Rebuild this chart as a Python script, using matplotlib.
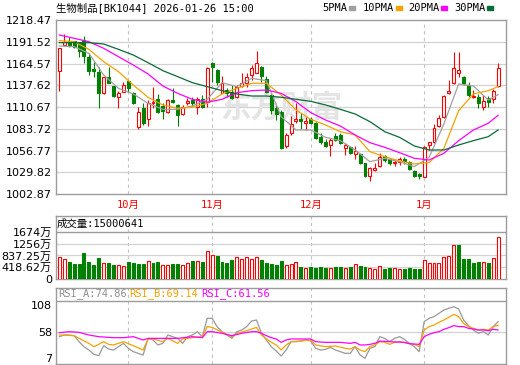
import matplotlib
matplotlib.use('Agg')
import matplotlib.pyplot as plt
from matplotlib.patches import Rectangle
import numpy as np

W, H = 520, 365

# 日K数据 (2025-09-11 ... 2026-01-26)
opens = [1155.7, 1187.5, 1192.5, 1192.5, 1189.6, 1193.7, 1173.0, 1157.4, 1154.5, 1128.4,
         1147.4, 1136.7, 1123.5, 1129.7, 1142.9, 1128.4, 1085.5, 1109.9, 1095.4, 1115.2,
         1120.6, 1111.9, 1104.1, 1119.3, 1113.2, 1101.9, 1115.2, 1119.3, 1110.3, 1120.2,
         1117.3, 1164.8, 1156.5, 1128.4, 1131.7, 1129.7, 1123.5, 1136.7, 1140.0, 1150.3,
         1153.2, 1160.6, 1144.9, 1125.5, 1109.9, 1104.9, 1062.4, 1078.0, 1093.7, 1095.4,
         1090.5, 1095.4, 1090.5, 1073.1, 1067.7, 1063.6, 1074.7, 1076.0, 1059.5, 1061.5,
         1052.4, 1052.0, 1040.9, 1025.2, 1032.6, 1037.6, 1050.0, 1045.8, 1040.9, 1042.9,
         1045.8, 1042.9, 1031.8, 1027.7, 1024.4, 1063.6, 1067.7, 1087.1, 1097.9, 1127.6,
         1140.0, 1152.4, 1147.4, 1137.9, 1122.7, 1123.5, 1111.1, 1121.4, 1120.2, 1136.7]
highs = [1184.0, 1201.1, 1197.8, 1193.0, 1191.6, 1199.1, 1177.2, 1166.8, 1160.6, 1148.3,
         1160.6, 1137.0, 1130.5, 1142.1, 1144.1, 1129.7, 1111.1, 1115.2, 1119.3, 1135.9,
         1126.8, 1115.2, 1120.1, 1133.8, 1114.4, 1113.2, 1121.4, 1123.5, 1123.5, 1125.5,
         1160.6, 1166.8, 1157.4, 1149.1, 1133.8, 1137.9, 1137.5, 1152.4, 1153.2, 1162.7,
         1180.5, 1161.5, 1149.1, 1126.8, 1113.2, 1106.9, 1078.0, 1099.5, 1115.2, 1102.8,
         1097.9, 1097.9, 1092.5, 1078.0, 1070.6, 1071.8, 1078.0, 1078.0, 1065.7, 1062.4,
         1062.4, 1053.3, 1041.7, 1036.8, 1041.7, 1053.3, 1051.2, 1047.1, 1045.0, 1048.3,
         1048.3, 1043.3, 1032.6, 1028.5, 1062.4, 1067.3, 1089.6, 1100.8, 1125.5, 1144.1,
         1179.2, 1179.2, 1149.1, 1142.1, 1131.7, 1126.8, 1125.5, 1124.3, 1132.6, 1164.8]
lows = [1130.9, 1186.3, 1185.4, 1183.4, 1173.0, 1164.8, 1150.3, 1148.3, 1109.9, 1126.8,
        1140.0, 1122.7, 1109.1, 1129.5, 1129.7, 1114.0, 1083.8, 1088.4, 1087.1, 1109.1,
        1102.8, 1096.2, 1102.8, 1116.0, 1087.1, 1100.8, 1113.2, 1111.9, 1101.6, 1109.1,
        1111.1, 1142.1, 1137.9, 1127.6, 1122.7, 1120.2, 1121.4, 1135.9, 1135.9, 1144.1,
        1152.4, 1142.1, 1127.6, 1102.0, 1094.6, 1059.0, 1059.5, 1076.0, 1090.5, 1083.0,
        1082.2, 1089.6, 1070.6, 1064.8, 1060.7, 1050.0, 1069.0, 1064.8, 1051.2, 1052.4,
        1045.8, 1040.1, 1024.4, 1019.4, 1031.8, 1036.8, 1042.9, 1038.8, 1037.6, 1038.8,
        1040.1, 1032.6, 1024.4, 1021.1, 1024.0, 1057.4, 1066.5, 1086.3, 1096.6, 1126.8,
        1139.5, 1148.3, 1137.9, 1123.5, 1121.4, 1109.1, 1107.0, 1111.1, 1115.2, 1135.9]
closes = [1183.4, 1190.8, 1187.5, 1185.4, 1180.1, 1174.3, 1155.7, 1155.7, 1128.4, 1147.4,
          1140.8, 1124.3, 1128.4, 1137.5, 1133.8, 1116.0, 1104.5, 1090.5, 1116.0, 1117.3,
          1104.9, 1106.1, 1119.3, 1117.3, 1100.8, 1111.1, 1118.1, 1116.0, 1120.6, 1110.3,
          1158.6, 1159.8, 1142.1, 1140.0, 1127.6, 1121.4, 1135.9, 1140.0, 1147.4, 1158.6,
          1164.8, 1149.1, 1129.7, 1107.0, 1101.6, 1059.5, 1076.0, 1089.6, 1095.4, 1093.7,
          1093.7, 1091.3, 1071.8, 1067.7, 1062.4, 1069.8, 1069.8, 1065.7, 1063.6, 1053.3,
          1056.6, 1040.9, 1025.2, 1034.7, 1035.5, 1049.1, 1045.0, 1040.9, 1042.9, 1045.8,
          1044.2, 1033.5, 1025.2, 1025.2, 1061.5, 1066.9, 1084.2, 1096.6, 1124.3, 1130.9,
          1158.6, 1156.5, 1140.0, 1125.5, 1124.3, 1115.2, 1118.5, 1117.3, 1130.9, 1158.6]

# 成交量 (万), 1 = 红, 0 = 绿
volumes = [772, 700, 594, 522, 522, 914, 594, 499, 736, 558,
           558, 499, 499, 463, 594, 558, 522, 522, 629, 558,
           594, 499, 499, 522, 522, 499, 558, 629, 629, 594,
           985, 843, 807, 594, 558, 665, 772, 700, 772, 700,
           795, 677, 570, 534, 499, 641, 499, 534, 594, 427,
           392, 427, 392, 427, 392, 392, 427, 427, 392, 427,
           534, 463, 427, 392, 356, 463, 368, 392, 392, 356,
           356, 392, 368, 368, 677, 570, 570, 570, 783, 819,
           1211, 1211, 712, 712, 570, 605, 605, 570, 748, 1496]
vol_up = [1, 1, 0, 0, 0, 0, 0, 0, 0, 1, 0, 0, 1, 1, 0, 0, 0, 0, 1, 0,
          0, 1, 1, 0, 0, 1, 1, 0, 1, 0, 1, 1, 0, 0, 0, 0, 1, 1, 1, 1,
          1, 0, 0, 0, 0, 0, 1, 1, 1, 0, 1, 0, 0, 0, 0, 1, 0, 0, 1, 0,
          1, 0, 0, 1, 1, 1, 0, 0, 1, 1, 0, 0, 0, 0, 1, 1, 1, 1, 1, 1,
          1, 0, 0, 0, 0, 0, 1, 0, 1, 1]

# 均线 (读图取样)
ma_idx = [0, 3, 6, 9, 12, 15, 18, 21, 24, 27, 30, 33, 36, 39, 42, 45,
          48, 51, 54, 57, 60, 63, 66, 69, 72, 75, 78, 81, 84, 87, 89]
ma5 = [1186.3, 1185.4, 1177.2, 1150.3, 1133.8, 1126.8, 1115.2, 1107.8, 1107.8, 1111.9,
       1120.2, 1140.8, 1135.9, 1146.2, 1143.3, 1098.7, 1082.2, 1082.2, 1073.1, 1069.0,
       1057.4, 1042.9, 1047.1, 1042.9, 1036.8, 1048.3, 1089.6, 1139.2, 1136.7, 1119.3, 1126.0]
ma10 = [1192.9, 1191.6, 1182.1, 1166.8, 1154.5, 1137.9, 1122.7, 1113.2, 1109.1, 1110.3,
        1115.2, 1126.8, 1133.8, 1140.0, 1140.0, 1125.5, 1107.0, 1095.4, 1088.4, 1080.1,
        1076.0, 1055.3, 1049.1, 1043.8, 1040.1, 1041.7, 1059.5, 1106.1, 1126.8, 1130.9, 1135.9]
ma20 = [1199.9, 1195.8, 1191.6, 1183.4, 1173.0, 1162.7, 1151.6, 1136.7, 1127.6, 1120.2,
        1116.5, 1120.2, 1128.4, 1130.9, 1131.7, 1127.6, 1117.3, 1103.7, 1094.6, 1087.1,
        1076.0, 1066.5, 1060.7, 1054.1, 1047.1, 1045.0, 1053.3, 1069.0, 1082.2, 1090.5, 1100.4]
ma30 = [1190.4, 1190.4, 1190.4, 1188.7, 1182.1, 1175.1, 1165.6, 1155.7, 1148.3, 1140.8,
        1135.9, 1130.9, 1126.8, 1124.3, 1124.3, 1122.7, 1120.2, 1117.7, 1113.2, 1107.8,
        1102.0, 1092.5, 1080.1, 1073.1, 1062.4, 1057.4, 1057.4, 1063.6, 1069.0, 1073.9, 1082.2]
ma_names = ['5PMA', '10PMA', '20PMA', '30PMA']

# RSI
rsi_a = [50.8, 53.5, 53.5, 52.4, 42.8, 34.8, 29.4, 22.5, 20.4, 36.4,
         31.0, 29.4, 34.8, 40.1, 32.1, 26.8, 24.1, 21.4, 48.1, 45.5,
         37.5, 40.1, 53.5, 50.8, 48.1, 40.1, 50.8, 53.5, 58.8, 50.8,
         80.2, 80.2, 66.9, 58.8, 53.5, 48.1, 58.8, 61.5, 66.9, 75.9,
         77.5, 56.2, 45.5, 34.8, 27.8, 19.8, 29.4, 42.8, 42.8, 43.9,
         45.5, 43.9, 32.1, 29.4, 30.5, 33.7, 29.4, 26.8, 24.1, 24.1,
         34.8, 21.4, 16.1, 32.1, 34.8, 50.8, 48.1, 42.8, 48.1, 50.8,
         46.5, 40.1, 34.8, 26.8, 74.9, 80.2, 82.9, 88.2, 93.6, 96.2,
         98.9, 95.2, 77.5, 68.5, 61.5, 56.2, 58.8, 53.5, 66.9, 74.86]
rsi_b_idx = [0, 3, 6, 7, 8, 9, 10, 11, 13, 15, 17, 18, 19, 21, 22, 24, 25, 27, 29, 30,
             31, 33, 35, 36, 38, 40, 41, 42, 43, 44, 45, 46, 47, 49, 51, 52, 54, 56, 58, 59,
             60, 61, 62, 63, 64, 65, 66, 67, 68, 69, 71, 72, 73, 74, 75, 76, 77, 78, 79, 80,
             81, 82, 83, 84, 85, 86, 87, 88, 89]
rsi_b = [53.5, 52.4, 40.1, 34.8, 38.5, 42.8, 38.5, 37.5, 42.8, 36.4,
         29.4, 47.1, 47.1, 42.8, 48.1, 40.1, 47.1, 49.2, 50.8, 66.9,
         65.8, 57.8, 50.8, 56.2, 60.4, 65.8, 53.5, 47.1, 41.7, 37.5,
         29.4, 37.5, 42.8, 43.9, 45.5, 37.5, 34.8, 35.9, 32.1, 31.0,
         34.8, 29.4, 26.8, 34.8, 37.5, 42.8, 41.7, 38.5, 41.7, 42.8,
         39.6, 38.5, 34.8, 61.5, 66.9, 69.5, 73.8, 77.5, 81.8, 86.6,
         82.9, 72.2, 66.9, 64.2, 61.5, 62.6, 61.5, 66.9, 69.14]
rsi_c_idx = [0, 2, 4, 6, 8, 11, 13, 15, 17, 18, 21, 24, 27, 29, 30, 31, 33, 35, 37, 39,
             40, 41, 42, 43, 44, 45, 46, 47, 51, 52, 54, 57, 59, 60, 61, 62, 63, 64, 65, 67,
             70, 71, 73, 74, 75, 76, 77, 78, 79, 80, 81, 82, 83, 84, 85, 86, 87, 88, 89]
rsi_c = [57.2, 58.8, 57.8, 53.5, 50.8, 49.2, 49.2, 50.8, 45.5, 48.1,
         48.1, 48.1, 50.8, 49.2, 58.8, 58.8, 56.2, 52.4, 56.2, 58.8,
         58.8, 56.2, 52.4, 49.2, 47.1, 41.7, 45.5, 47.1, 47.1, 42.8,
         41.7, 41.7, 40.1, 41.7, 37.5, 37.5, 38.5, 40.1, 43.9, 42.8,
         41.7, 39.6, 38.5, 50.8, 54.6, 57.2, 58.8, 62.6, 65.3, 68.5,
         66.9, 66.9, 64.2, 63.1, 61.5, 61.5, 60.4, 62.6, 61.56]

price_ticks = [1002.87, 1029.82, 1056.77, 1083.72, 1110.67, 1137.62, 1164.57, 1191.52, 1218.47]
vol_ticks = [0, 418.62, 837.25, 1256, 1674]
vol_labels = ['0', '418.62万', '837.25万', '1256万', '1674万']
rsi_ticks = [7, 58, 108]
month_idx = [14, 31, 51, 74]
month_labels = ['10月', '11月', '12月', '1月']

RED = '#ff0000'
GREEN = '#008000'
FRAME = '#9c9c9c'
GRID = '#d2d2d2'
MA_COLORS = ['#a0a0a0', '#f5a200', '#ff00ff', '#0a6a38']
MONO = ['DejaVu Sans Mono', 'Noto Sans CJK SC']
LAB = ['DejaVu Sans', 'Noto Sans CJK SC']

fig = plt.figure(figsize=(W / 100, H / 100), dpi=100)
fig.patch.set_facecolor('white')


def box(l, t, r, b):
    return [l / W, 1 - b / H, (r - l) / W, (b - t) / H]


def ftext(x, y, s, **kw):
    fig.text(x / W, 1 - y / H, s, **kw)


def style(a):
    for sp in a.spines.values():
        sp.set_color(FRAME)
        sp.set_linewidth(1.0)
    a.set_xlim(-0.67, 90.6)
    a.set_xticks([])
    a.tick_params(axis='y', length=0, pad=3, labelsize=8)
    for lab in a.get_yticklabels():
        lab.set_family(LAB)
    for m in month_idx:
        a.axvline(m, color='#c4c4c4', lw=0.8, ls=(0, (3, 3)), zorder=1)


x = np.arange(len(closes))
opens_a = np.array(opens)
closes_a = np.array(closes)
up = closes_a >= opens_a

# ---- K线 ----
ax = fig.add_axes(box(56, 20, 506, 194))
ax.set_ylim(price_ticks[0], price_ticks[-1])
ax.set_yticks(price_ticks)
ax.set_yticklabels(['%.2f' % t for t in price_ticks])
for t in price_ticks[1:-1]:
    ax.axhline(t, color=GRID, lw=0.9, zorder=0)
style(ax)
# 水印
ax.text(45, 1110, '东方财富', fontsize=22, color='#e4e4e4', fontweight='bold',
        family='Noto Sans CJK SC', ha='center', va='center', zorder=0)

cols = np.where(up, RED, GREEN)
ax.vlines(x, lows, highs, colors=cols, lw=0.8, zorder=3)
body_lo = np.minimum(opens_a, closes_a)
body_h = np.maximum(np.abs(closes_a - opens_a), 0.5)
ax.bar(x, body_h, 0.6, body_lo, facecolor=np.where(up, 'white', GREEN),
       edgecolor=cols, lw=0.8, zorder=4)

for vals, c in zip([ma5, ma10, ma20, ma30], MA_COLORS):
    ax.plot(ma_idx, vals, color=c, lw=0.9, zorder=5)

for m, s in zip(month_idx, month_labels):
    ftext(56 + (m + 0.67) / 91.27 * 450, 205, s, color=RED, fontsize=7.5,
          family=MONO, ha='center', va='center')

# 标题与图例
ftext(56, 8, '生物制品[BK1044] 2026-01-26 15:00', fontsize=7.5, family=MONO,
      ha='left', va='center')
lx = [322, 363, 408, 454]
for px, name, c in zip(lx, ma_names, MA_COLORS):
    ftext(px, 8, name, fontsize=7.5, family=MONO, ha='left', va='center')
    sx = px + len(name) * 6.2 + 2
    fig.patches.append(Rectangle((sx / W, 1 - 10 / H), 6 / W, 4 / H,
                                 transform=fig.transFigure, color=c, figure=fig))

# ---- 成交量 ----
axv = fig.add_axes(box(56, 216, 506, 279))
axv.set_ylim(0, 1674 * 63 / 47)
axv.set_yticks(vol_ticks)
axv.set_yticklabels(vol_labels)
for t in vol_ticks[1:-1]:
    axv.axhline(t, color=GRID, lw=0.9, zorder=0)
axv.axhline(1674, color=FRAME, lw=1.0)
style(axv)
vup = np.array(vol_up) == 1
vcols = np.where(vup, RED, GREEN)
axv.bar(x, volumes, 0.6, facecolor=np.where(vup, 'white', GREEN),
        edgecolor=vcols, lw=0.8, zorder=3)
ftext(57, 224, '成交量:15000641', fontsize=7.5, family=MONO, ha='left', va='center')

# ---- RSI ----
axr = fig.add_axes(box(56, 288, 506, 364))
axr.set_ylim(7, 7 + 101 * 76 / 63)
axr.set_yticks(rsi_ticks)
axr.set_yticklabels([str(t) for t in rsi_ticks])
axr.axhline(58, color=GRID, lw=0.9, zorder=0)
axr.axhline(108, color=FRAME, lw=1.0)
style(axr)
labs = axr.get_yticklabels()
labs[0].set_va('bottom')
labs[2].set_va('top')
axr.plot(x, rsi_a, color='#999999', lw=0.9, zorder=3)
axr.plot(rsi_b_idx, rsi_b, color='#f5a200', lw=0.9, zorder=4)
axr.plot(rsi_c_idx, rsi_c, color='#ff00ff', lw=0.9, zorder=5)
ftext(58, 294, 'RSI_A:74.86', fontsize=7.5, family=MONO, color='#909090', va='center')
ftext(129, 294, 'RSI_B:69.14', fontsize=7.5, family=MONO, color='#f5a200', va='center')
ftext(201, 294, 'RSI_C:61.56', fontsize=7.5, family=MONO, color='#ff00ff', va='center')

fig.savefig('out.png', dpi=100)
